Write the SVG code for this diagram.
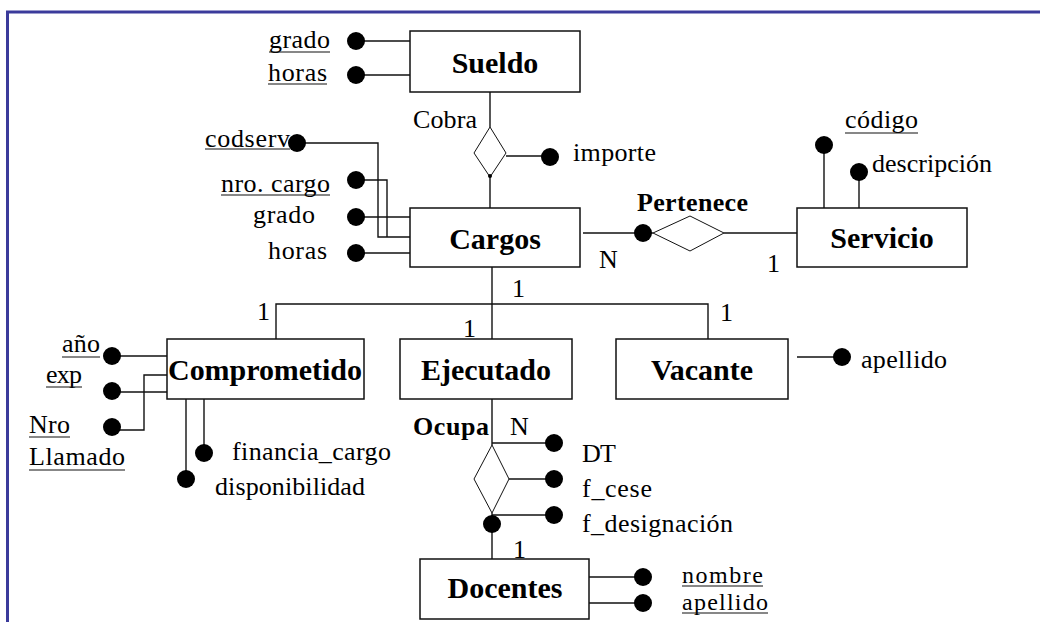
<svg xmlns="http://www.w3.org/2000/svg" width="1040" height="622" viewBox="0 0 1040 622">
<style>
.frame{stroke:#3b3b9b;stroke-width:3;fill:none}
.box{fill:#fff;stroke:#111;stroke-width:1.5}
.ln{stroke:#111;stroke-width:1.4;fill:none}
.dia{fill:#fff;stroke:#111;stroke-width:1}
.dot{fill:#000}
.ul{stroke:#111;stroke-width:1.2}
.t{font-family:"Liberation Serif","DejaVu Serif",serif;font-size:26px;font-weight:normal;fill:#000}
.s{font-size:24px}
.e{font-family:"Liberation Serif","DejaVu Serif",serif;font-size:30px;font-weight:bold;fill:#000;text-anchor:middle}
.r{font-family:"Liberation Serif","DejaVu Serif",serif;font-size:26px;font-weight:bold;fill:#000}
</style>
<rect width="1040" height="622" fill="#fff"/>
<path class="frame" d="M7.5 622 V12 H1040"/>

<g id="connectors">
  <line class="ln" x1="356" y1="41" x2="410" y2="41"/>
  <line class="ln" x1="356" y1="75" x2="410" y2="75"/>
  <line class="ln" x1="490" y1="92" x2="490" y2="127"/>
  <line class="ln" x1="490" y1="177" x2="490" y2="208"/>
  <line class="ln" x1="506" y1="156" x2="550" y2="156"/>
  <path class="ln" d="M297 143 H378 V237 H410"/>
  <path class="ln" d="M356 180 H387 V237"/>
  <line class="ln" x1="356" y1="217" x2="410" y2="217"/>
  <line class="ln" x1="356" y1="253" x2="410" y2="253"/>
  <line class="ln" x1="583" y1="233" x2="653" y2="233"/>
  <line class="ln" x1="724" y1="233" x2="797" y2="233"/>
  <line class="ln" x1="824" y1="145" x2="824" y2="208"/>
  <line class="ln" x1="859" y1="172" x2="859" y2="208"/>
  <line class="ln" x1="492" y1="267" x2="492" y2="339"/>
  <path class="ln" d="M276 339 V304 H708 V339"/>
  <line class="ln" x1="112" y1="356" x2="167" y2="356"/>
  <line class="ln" x1="112" y1="392" x2="167" y2="392"/>
  <path class="ln" d="M112 430 H144 V375 H167"/>
  <line class="ln" x1="186" y1="399" x2="186" y2="479"/>
  <line class="ln" x1="204" y1="399" x2="204" y2="453"/>
  <line class="ln" x1="797" y1="357" x2="842" y2="357"/>
  <line class="ln" x1="492" y1="399" x2="492" y2="445"/>
  <line class="ln" x1="492" y1="443" x2="554" y2="443"/>
  <line class="ln" x1="509" y1="479" x2="554" y2="479"/>
  <line class="ln" x1="492" y1="515" x2="554" y2="515"/>
  <line class="ln" x1="492" y1="513" x2="492" y2="559"/>
  <line class="ln" x1="589" y1="577" x2="643" y2="577"/>
  <line class="ln" x1="589" y1="603" x2="643" y2="603"/>
</g>

<g id="cobra">
  <polygon class="dia" points="490,127 506,153 490,177 474,153"/>
  <circle class="dot" cx="490" cy="176" r="2"/>
  <text class="t" x="413" y="128" textLength="64">Cobra</text>
</g>
<g id="pertenece">
  <polygon class="dia" points="653,233 690,216 724,233 690,251"/>
  <text class="r" x="637" y="211" textLength="111">Pertenece</text>
  <text class="t" x="599" y="268">N</text>
  <text class="t" x="767" y="272">1</text>
</g>
<g id="ocupa">
  <polygon class="dia" points="492,445 509,479 492,513 474,479"/>
  <text class="r" x="413" y="435" textLength="76">Ocupa</text>
  <text class="t" x="510" y="435">N</text>
  <text class="t" x="513" y="558">1</text>
</g>

<g id="sueldo">
  <rect class="box" x="410" y="31" width="170" height="61"/>
  <text class="e" x="495" y="73">Sueldo</text>
</g>
<g id="cargos">
  <rect class="box" x="410" y="208" width="170" height="59"/>
  <text class="e" x="495" y="249">Cargos</text>
</g>
<g id="servicio">
  <rect class="box" x="797" y="208" width="170" height="59"/>
  <text class="e" x="882" y="248">Servicio</text>
</g>
<g id="comprometido">
  <rect class="box" x="167" y="339" width="197" height="60"/>
  <text class="e" x="265" y="380" textLength="194">Comprometido</text>
</g>
<g id="ejecutado">
  <rect class="box" x="400" y="339" width="172" height="60"/>
  <text class="e" x="486" y="380">Ejecutado</text>
</g>
<g id="vacante">
  <rect class="box" x="616" y="339" width="172" height="60"/>
  <text class="e" x="702" y="380">Vacante</text>
</g>
<g id="docentes">
  <rect class="box" x="420" y="559" width="169" height="60"/>
  <text class="e" x="505" y="598">Docentes</text>
</g>

<g id="cardinalities">
  <text class="t" x="512" y="297">1</text>
  <text class="t" x="257" y="320">1</text>
  <text class="t" x="463" y="337">1</text>
  <text class="t" x="720" y="321">1</text>
</g>

<g id="attributes">
  <circle class="dot" cx="356" cy="41" r="9"/>
  <text class="t" x="269" y="48" textLength="61">grado</text>
  <line class="ul" x1="269" y1="52" x2="330" y2="52"/>
  <circle class="dot" cx="356" cy="75" r="9"/>
  <text class="t" x="268" y="81" textLength="59">horas</text>
  <line class="ul" x1="268" y1="84" x2="327" y2="84"/>

  <circle class="dot" cx="550" cy="157" r="9"/>
  <text class="t" x="573" y="161" textLength="83">importe</text>

  <circle class="dot" cx="297" cy="143" r="9"/>
  <text class="t" x="205" y="147" textLength="85">codserv</text>
  <line class="ul" x1="205" y1="149" x2="290" y2="149"/>
  <circle class="dot" cx="356" cy="180" r="9"/>
  <text class="t" x="221" y="192" textLength="109">nro. cargo</text>
  <line class="ul" x1="221" y1="195" x2="330" y2="195"/>
  <circle class="dot" cx="356" cy="217" r="9"/>
  <text class="t" x="253" y="223" textLength="62">grado</text>
  <circle class="dot" cx="356" cy="253" r="9"/>
  <text class="t" x="268" y="259" textLength="59">horas</text>

  <circle class="dot" cx="643" cy="233" r="9"/>

  <circle class="dot" cx="824" cy="145" r="9"/>
  <text class="t" x="845" y="128" textLength="73">código</text>
  <line class="ul" x1="845" y1="133" x2="918" y2="133"/>
  <circle class="dot" cx="859" cy="172" r="9"/>
  <text class="t" x="872" y="172" textLength="120">descripción</text>

  <circle class="dot" cx="112" cy="356" r="9"/>
  <text class="t" x="62" y="352" textLength="38">año</text>
  <line class="ul" x1="62" y1="357" x2="100" y2="357"/>
  <circle class="dot" cx="112" cy="391" r="9"/>
  <text class="t" x="46" y="383" textLength="36">exp</text>
  <line class="ul" x1="46" y1="387" x2="82" y2="387"/>
  <circle class="dot" cx="112" cy="427" r="9"/>
  <text class="t" x="29" y="433" textLength="41">Nro</text>
  <line class="ul" x1="29" y1="437" x2="70" y2="437"/>
  <text class="t" x="29" y="465" textLength="96">Llamado</text>
  <line class="ul" x1="29" y1="470" x2="125" y2="470"/>
  <circle class="dot" cx="204" cy="453" r="9"/>
  <text class="t" x="232" y="460" textLength="159">financia_cargo</text>
  <circle class="dot" cx="186" cy="479" r="9"/>
  <text class="t" x="215" y="495" textLength="150">disponibilidad</text>

  <circle class="dot" cx="842" cy="357" r="9"/>
  <text class="t" x="861" y="368" textLength="86">apellido</text>

  <circle class="dot" cx="554" cy="443" r="9"/>
  <text class="t" x="582" y="462" textLength="34">DT</text>
  <circle class="dot" cx="554" cy="479" r="9"/>
  <text class="t" x="582" y="497" textLength="70">f_cese</text>
  <circle class="dot" cx="554" cy="515" r="9"/>
  <text class="t" x="582" y="532" textLength="151">f_designación</text>
  <circle class="dot" cx="492" cy="524" r="9"/>

  <circle class="dot" cx="643" cy="577" r="9"/>
  <text class="t s" x="682" y="583" textLength="81">nombre</text>
  <line class="ul" x1="682" y1="586" x2="763" y2="586"/>
  <circle class="dot" cx="643" cy="603" r="9"/>
  <text class="t s" x="682" y="610" textLength="86">apellido</text>
  <line class="ul" x1="682" y1="613" x2="768" y2="613"/>
</g>
</svg>
